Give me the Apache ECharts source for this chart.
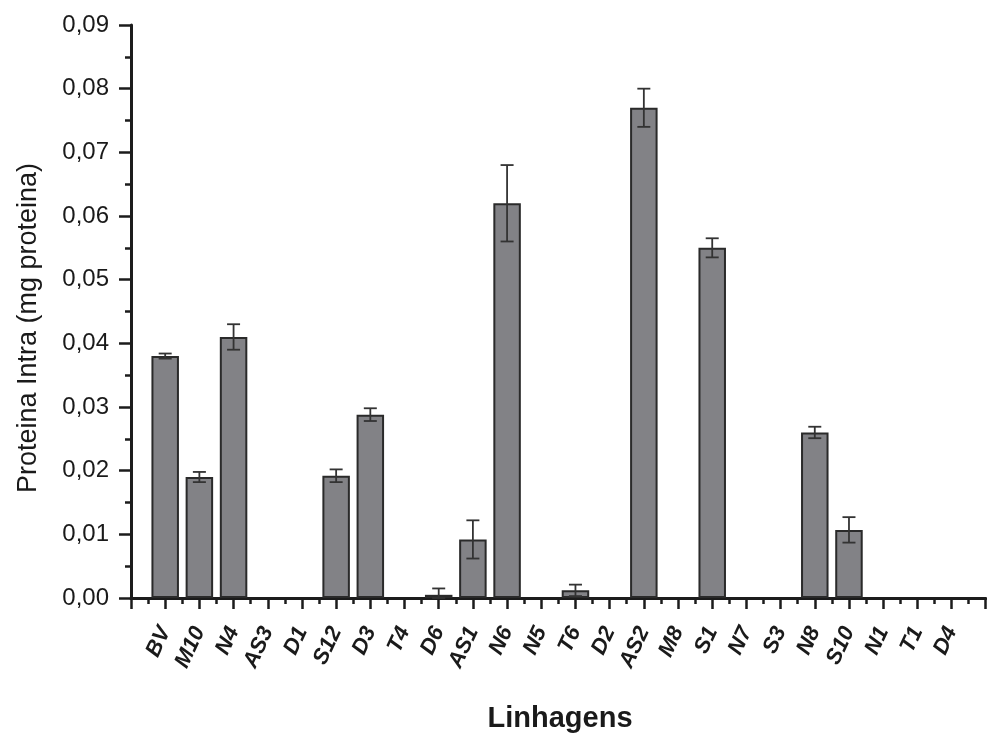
<!DOCTYPE html>
<html>
<head>
<meta charset="utf-8">
<script src="https://cdn.jsdelivr.net/npm/echarts@6/dist/echarts.min.js"></script>
<style>
html,body{margin:0;padding:0;background:#fff;}
#chart{width:987px;height:737px;}
</style>
</head>
<body>
<div id="chart"></div>
<script>
// ---- data ----
const categories = ['BV','M10','N4','AS3','D1','S12','D3','T4','D6','AS1','N6','N5','T6','D2','AS2','M8','S1','N7','S3','N8','S10','N1','T1','D4'];
const values = [0.038,0.019,0.041,0,0,0.0192,0.0288,0,0.0005,0.0092,0.062,0,0.0012,0,0.077,0,0.055,0,0,0.026,0.0107,0,0,0];
const errors = [0.0004,0.0008,0.002,0,0,0.001,0.001,0,0.001,0.003,0.006,0,0.0009,0,0.003,0,0.0015,0,0,0.0009,0.002,0,0,0];
const yTickValues = [0,0.01,0.02,0.03,0.04,0.05,0.06,0.07,0.08,0.09];
const yTitle = 'Proteina Intra (mg proteina)';
const xTitle = 'Linhagens';

// ---- build ----
const barData = [];
const errData = [];
categories.forEach((c, i) => {
  if (values[i] > 0) {
    barData.push([i + 1, values[i]]);
    errData.push([i + 1, values[i], errors[i]]);
  }
});

const FONT = '"Liberation Sans", Arial, Helvetica, sans-serif';
const AX = '#1c1c1c';
const chart = echarts.init(document.getElementById('chart'), null, {renderer: 'canvas'});

const gridLeft = 131, gridTop = 25, gridBottom = 139;
const spacing = 34.43;
const gridRight = 987 - (gridLeft + 25 * spacing);

chart.setOption({
  animation: false,
  backgroundColor: '#fff',
  grid: {left: gridLeft, right: gridRight, top: gridTop, bottom: gridBottom, containLabel: false},
  xAxis: {
    type: 'value',
    min: 0, max: 25, interval: 1,
    splitLine: {show: false},
    axisLine: {show: true, onZero: false, lineStyle: {color: AX, width: 3}},
    axisTick: {show: true, inside: false, length: 11, lineStyle: {color: AX, width: 2.5}},
    minorTick: {show: true, splitNumber: 2, length: 6, lineStyle: {color: AX, width: 2.5}},
    axisLabel: {
      rotate: 65,
      margin: 30,
      color: '#1a1a1a',
      fontFamily: FONT,
      fontSize: 22,
      fontWeight: 'bold',
      fontStyle: 'italic',
      formatter: function (v) {
        const k = Math.round(v);
        return (k >= 1 && k <= categories.length) ? categories[k - 1] : '';
      }
    }
  },
  yAxis: {
    type: 'value',
    min: 0, max: 0.09, interval: 0.01,
    splitLine: {show: false},
    axisLine: {show: true, onZero: false, lineStyle: {color: AX, width: 3}},
    axisTick: {show: true, inside: false, length: 12, lineStyle: {color: AX, width: 2.5}},
    minorTick: {show: true, splitNumber: 2, length: 6, lineStyle: {color: AX, width: 2.5}},
    axisLabel: {
      margin: 22,
      color: '#1a1a1a',
      fontFamily: FONT,
      fontSize: 24,
      formatter: function (v) {
        let best = yTickValues.reduce((a, b) => Math.abs(b - v) < Math.abs(a - v) ? b : a);
        return best.toFixed(2).replace('.', ',');
      }
    }
  },
  series: [
    {
      type: 'bar',
      data: barData,
      barWidth: 27.5,
      itemStyle: {color: '#828286', borderColor: '#2a2a2a', borderWidth: 2},
      z: 2
    },
    {
      type: 'custom',
      data: errData,
      z: 3,
      renderItem: function (params, api) {
        const x = api.value(0), v = api.value(1), e = api.value(2);
        const top = api.coord([x, v + e]);
        const bot = api.coord([x, Math.max(0, v - e)]);
        const hw = 6.5;
        const st = {stroke: '#333', lineWidth: 1.8};
        return {
          type: 'group',
          children: [
            {type: 'line', shape: {x1: top[0], y1: top[1], x2: bot[0], y2: bot[1]}, style: st},
            {type: 'line', shape: {x1: top[0] - hw, y1: top[1], x2: top[0] + hw, y2: top[1]}, style: st},
            {type: 'line', shape: {x1: bot[0] - hw, y1: bot[1], x2: bot[0] + hw, y2: bot[1]}, style: st}
          ]
        };
      }
    }
  ],
  graphic: [
    {
      type: 'text',
      x: 29, y: 328,
      rotation: Math.PI / 2,
      style: {text: yTitle, font: '27px ' + FONT, fill: '#1a1a1a', align: 'center', verticalAlign: 'middle'}
    },
    {
      type: 'text',
      x: 560, y: 719,
      style: {text: xTitle, font: 'bold 29px ' + FONT, fill: '#1a1a1a', align: 'center', verticalAlign: 'middle'}
    }
  ]
});
</script>
</body>
</html>
